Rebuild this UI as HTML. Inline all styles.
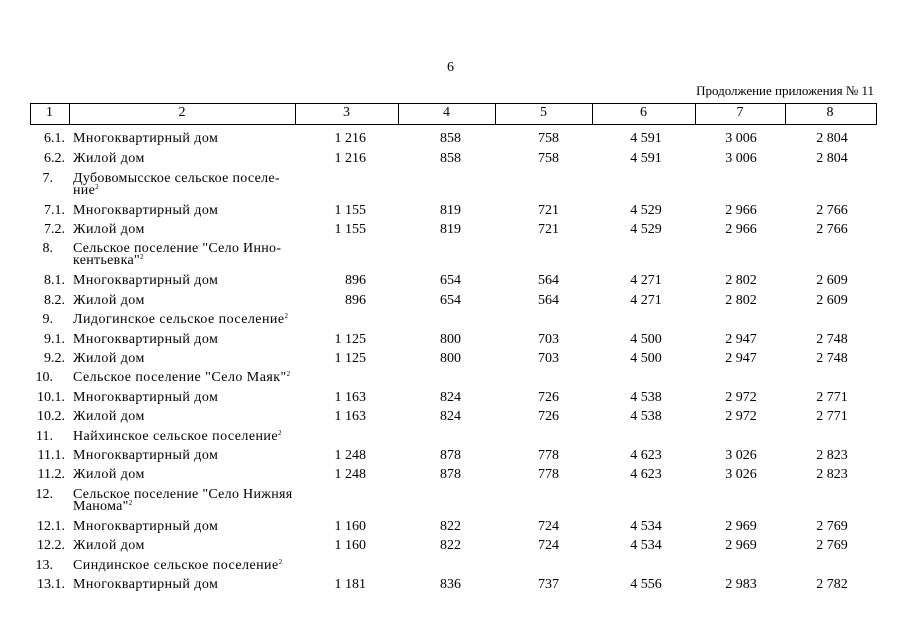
<!DOCTYPE html>
<html><head><meta charset="utf-8"><style>
body{margin:0;width:905px;height:640px;background:#fff;position:relative;overflow:hidden;font-family:"Liberation Serif",serif;font-size:14px;color:#000}
.a{position:absolute;line-height:16px;white-space:nowrap}
.r{position:absolute;left:0;width:905px;height:16px;margin-top:1px}
.r span{position:absolute;top:0;line-height:16px;white-space:nowrap}
.n{left:15px;width:50px;text-align:right}
.g{left:5px;width:48px;text-align:right}
.r span.t{left:73px;letter-spacing:0.45px}
.r span.t2{left:73px;line-height:12px;top:2px;letter-spacing:0.3px}
.c3{left:295px;width:71px;text-align:right}
.c4{left:402px;width:97px;text-align:center}
.c5{left:500px;width:97px;text-align:center}
.c6{left:597px;width:98px;text-align:center}
.c7{left:696px;width:90px;text-align:center}
.c8{left:787px;width:90px;text-align:center}
sup{font-size:7px;vertical-align:5px;line-height:0}
.hd{position:absolute;top:103px;left:30px;width:845px;height:20px;border:1px solid #000}
.vl{position:absolute;top:103px;height:22px;width:1px;background:#000}
</style></head><body>
<div class="a" style="left:447px;top:60px">6</div>
<div class="a" style="right:31px;top:83px;font-size:13px">Продолжение приложения № 11</div>
<div class="hd"></div>
<div class="vl" style="left:69px"></div><div class="vl" style="left:295px"></div><div class="vl" style="left:398px"></div><div class="vl" style="left:495px"></div><div class="vl" style="left:592px"></div><div class="vl" style="left:695px"></div><div class="vl" style="left:785px"></div>
<div class="r" style="top:104px"><span style="left:30px;width:39px;text-align:center">1</span><span style="left:69px;width:226px;text-align:center">2</span><span style="left:295px;width:103px;text-align:center">3</span><span style="left:398px;width:97px;text-align:center">4</span><span style="left:495px;width:97px;text-align:center">5</span><span style="left:592px;width:103px;text-align:center">6</span><span style="left:695px;width:90px;text-align:center">7</span><span style="left:785px;width:90px;text-align:center">8</span></div>

<div class="r" style="top:130px"><span class="n">6.1.</span><span class="t">Многоквартирный дом</span><span class="c3">1 216</span><span class="c4">858</span><span class="c5">758</span><span class="c6">4 591</span><span class="c7">3 006</span><span class="c8">2 804</span></div>
<div class="r" style="top:150px"><span class="n">6.2.</span><span class="t">Жилой дом</span><span class="c3">1 216</span><span class="c4">858</span><span class="c5">758</span><span class="c6">4 591</span><span class="c7">3 006</span><span class="c8">2 804</span></div>
<div class="r" style="top:170px"><span class="g">7.</span><span class="t2">Дубовомысское сельское поселе-<br>ние<sup>2</sup></span></div>
<div class="r" style="top:202px"><span class="n">7.1.</span><span class="t">Многоквартирный дом</span><span class="c3">1 155</span><span class="c4">819</span><span class="c5">721</span><span class="c6">4 529</span><span class="c7">2 966</span><span class="c8">2 766</span></div>
<div class="r" style="top:221px"><span class="n">7.2.</span><span class="t">Жилой дом</span><span class="c3">1 155</span><span class="c4">819</span><span class="c5">721</span><span class="c6">4 529</span><span class="c7">2 966</span><span class="c8">2 766</span></div>
<div class="r" style="top:240px"><span class="g">8.</span><span class="t2">Сельское поселение "Село Инно-<br>кентьевка"<sup>2</sup></span></div>
<div class="r" style="top:272px"><span class="n">8.1.</span><span class="t">Многоквартирный дом</span><span class="c3">896</span><span class="c4">654</span><span class="c5">564</span><span class="c6">4 271</span><span class="c7">2 802</span><span class="c8">2 609</span></div>
<div class="r" style="top:292px"><span class="n">8.2.</span><span class="t">Жилой дом</span><span class="c3">896</span><span class="c4">654</span><span class="c5">564</span><span class="c6">4 271</span><span class="c7">2 802</span><span class="c8">2 609</span></div>
<div class="r" style="top:311px"><span class="g">9.</span><span class="t">Лидогинское сельское поселение<sup>2</sup></span></div>
<div class="r" style="top:331px"><span class="n">9.1.</span><span class="t">Многоквартирный дом</span><span class="c3">1 125</span><span class="c4">800</span><span class="c5">703</span><span class="c6">4 500</span><span class="c7">2 947</span><span class="c8">2 748</span></div>
<div class="r" style="top:350px"><span class="n">9.2.</span><span class="t">Жилой дом</span><span class="c3">1 125</span><span class="c4">800</span><span class="c5">703</span><span class="c6">4 500</span><span class="c7">2 947</span><span class="c8">2 748</span></div>
<div class="r" style="top:369px"><span class="g">10.</span><span class="t">Сельское поселение "Село Маяк"<sup>2</sup></span></div>
<div class="r" style="top:389px"><span class="n">10.1.</span><span class="t">Многоквартирный дом</span><span class="c3">1 163</span><span class="c4">824</span><span class="c5">726</span><span class="c6">4 538</span><span class="c7">2 972</span><span class="c8">2 771</span></div>
<div class="r" style="top:408px"><span class="n">10.2.</span><span class="t">Жилой дом</span><span class="c3">1 163</span><span class="c4">824</span><span class="c5">726</span><span class="c6">4 538</span><span class="c7">2 972</span><span class="c8">2 771</span></div>
<div class="r" style="top:428px"><span class="g">11.</span><span class="t">Найхинское сельское поселение<sup>2</sup></span></div>
<div class="r" style="top:447px"><span class="n">11.1.</span><span class="t">Многоквартирный дом</span><span class="c3">1 248</span><span class="c4">878</span><span class="c5">778</span><span class="c6">4 623</span><span class="c7">3 026</span><span class="c8">2 823</span></div>
<div class="r" style="top:466px"><span class="n">11.2.</span><span class="t">Жилой дом</span><span class="c3">1 248</span><span class="c4">878</span><span class="c5">778</span><span class="c6">4 623</span><span class="c7">3 026</span><span class="c8">2 823</span></div>
<div class="r" style="top:486px"><span class="g">12.</span><span class="t2">Сельское поселение "Село Нижняя<br>Манома"<sup>2</sup></span></div>
<div class="r" style="top:518px"><span class="n">12.1.</span><span class="t">Многоквартирный дом</span><span class="c3">1 160</span><span class="c4">822</span><span class="c5">724</span><span class="c6">4 534</span><span class="c7">2 969</span><span class="c8">2 769</span></div>
<div class="r" style="top:537px"><span class="n">12.2.</span><span class="t">Жилой дом</span><span class="c3">1 160</span><span class="c4">822</span><span class="c5">724</span><span class="c6">4 534</span><span class="c7">2 969</span><span class="c8">2 769</span></div>
<div class="r" style="top:557px"><span class="g">13.</span><span class="t">Синдинское сельское поселение<sup>2</sup></span></div>
<div class="r" style="top:576px"><span class="n">13.1.</span><span class="t">Многоквартирный дом</span><span class="c3">1 181</span><span class="c4">836</span><span class="c5">737</span><span class="c6">4 556</span><span class="c7">2 983</span><span class="c8">2 782</span></div>
</body></html>
